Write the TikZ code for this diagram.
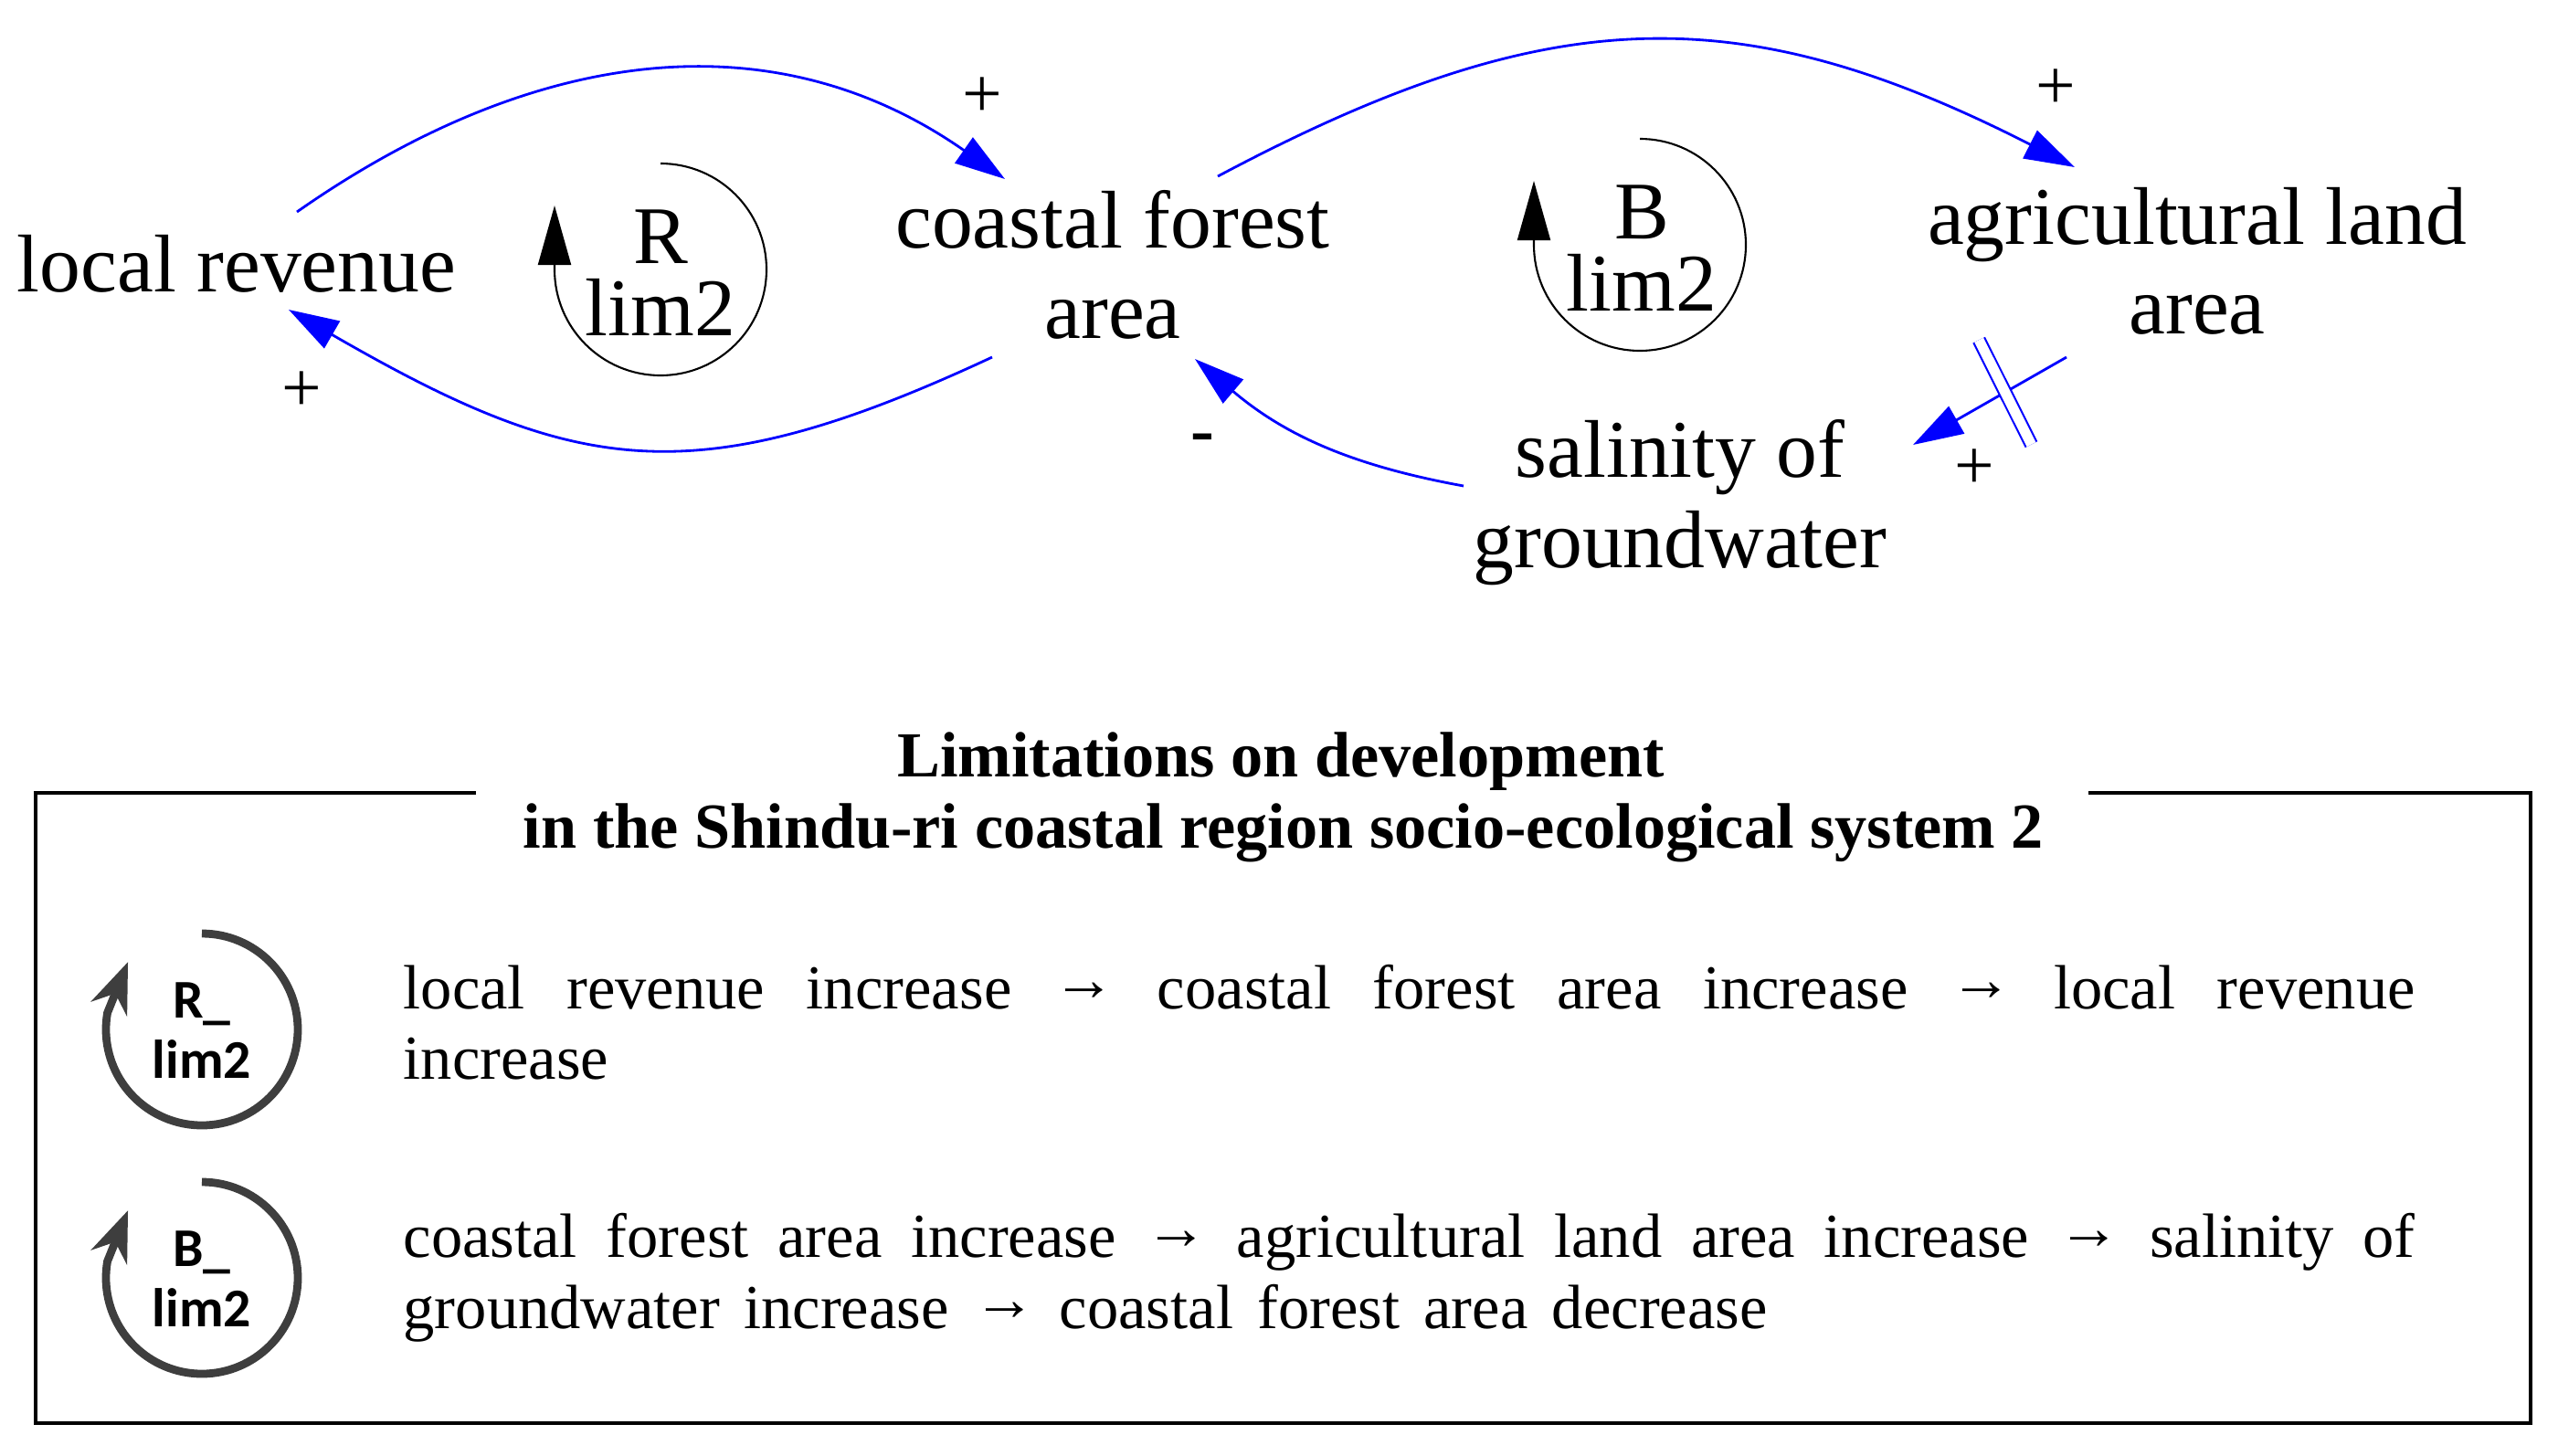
\documentclass[tikz,border=0pt]{standalone}
\usepackage{fontspec}
\setmainfont{Liberation Serif}
\newfontfamily\iconfont{Carlito}
\usetikzlibrary{arrows.meta,calc}
\definecolor{cldblue}{RGB}{0,0,255}
\definecolor{icongray}{RGB}{62,62,62}
\newcommand\legarrow{\raisebox{0.12em}{→}}
\begin{document}
\begin{tikzpicture}[
  var/.style={align=center, inner sep=0pt, font=\fontsize{25.5}{28}\selectfont},
  looplbl/.style={align=center, inner sep=0pt, font=\fontsize{25.5}{22.5}\selectfont},
  polarity/.style={inner sep=0pt, font=\fontsize{22}{24}\selectfont},
  link/.style={draw=cldblue, line width=0.8pt, -{Triangle[length=0.55cm,width=0.34cm]}},
  loopring/.style={draw=black, line width=0.6pt, -{Triangle[length=0.65cm,width=0.36cm]}},
  iconring/.style={draw=icongray, line width=2.5pt, -{Stealth[length=0.55cm,width=0.42cm]}},
  iconlbl/.style={align=center, inner sep=0pt, text=black, font=\iconfont\bfseries\fontsize{17}{19}\selectfont},
  delaymark/.style={draw=cldblue, line width=0.6pt, double=white, double distance=0.11cm},
  frame/.style={draw=black, line width=1.1pt},
  legtitle/.style={inner sep=0pt, font=\bfseries\fontsize{20}{22}\selectfont},
  legtxt/.style={inner sep=0pt, font=\fontsize{19.5}{22}\selectfont}
]
\useasboundingbox (0,0) rectangle (28,-15.93);

% variables
\node[var] (lr) at (2.59,-2.89) {local revenue};
\node[var] (cf) at (12.18,-2.90) {coastal forest\\area};
\node[var] (ag) at (24.05,-2.86) {agricultural land\\area};
\node[var] (sal) at (18.39,-5.50) {salinity of\\groundwater};

% connector end points
\coordinate (a1s) at ($(lr)+(0.66,0.57)$);
\coordinate (a1e) at ($(cf)+(-1.18,0.94)$);
\coordinate (a2s) at ($(cf)+(-1.32,-1.01)$);
\coordinate (a2e) at ($(lr)+(0.57,-0.50)$);
\coordinate (a3s) at ($(cf)+(1.15,0.97)$);
\coordinate (a3e) at ($(ag)+(-1.34,1.03)$);
\coordinate (a4s) at ($(ag)+(-1.43,-1.05)$);
\coordinate (a4e) at ($(sal)+(2.55,0.63)$);
\coordinate (a5s) at ($(sal)+(-2.37,0.18)$);
\coordinate (a5e) at ($(cf)+(0.90,-1.03)$);

% causal links
\draw[link] (a1s) to[out=35,in=145,looseness=1.03] (a1e);
\draw[link] (a2s) to[out=-155,in=-30,looseness=1.2] (a2e);
\draw[link] (a3s) to[out=28,in=153,looseness=1.12] (a3e);
\draw[link] (a4s) -- (a4e) coordinate[pos=0.4] (dm);
\draw[link] (a5s) to[bend left=15] (a5e);
\draw[delaymark] ($(dm)+(116.6:0.64)$) -- ($(dm)+(-63.4:0.64)$);

% polarities
\node[polarity] (p1) at (10.75,-1.07) {+};
\node[polarity] (p2) at (3.30,-4.29) {+};
\node[polarity] (p3) at (22.50,-0.98) {+};
\node[polarity] (p4) at (21.61,-5.14) {+};
\node[polarity, font=\bfseries\fontsize{22}{24}\selectfont] (p5) at (13.16,-4.86) {-};

% loop markers
\coordinate (rc) at (7.23,-2.95);
\coordinate (bc) at (17.95,-2.68);
\draw[loopring] (rc) ++(90:1.16) arc[start angle=90,end angle=-180,radius=1.16] -- ++(0,0.7);
\draw[loopring] (bc) ++(90:1.16) arc[start angle=90,end angle=-180,radius=1.16] -- ++(0,0.7);
\node[looplbl] (rl) at (7.23,-2.99) {R\\lim2};
\node[looplbl] (bl) at (17.97,-2.72) {B\\lim2};

% legend frame and title
\draw[frame] (5.21,-8.68) -- (0.39,-8.68) -- (0.39,-15.58) -- (27.70,-15.58) -- (27.70,-8.68) -- (22.86,-8.68);
\node[legtitle, anchor=base] (t1) at (14.02,-8.50) {Limitations on development};
\node[legtitle, anchor=base] (t2) at (14.05,-9.28) {in the Shindu-ri coastal region socio-ecological system 2};

% legend icons
\coordinate (ic1) at (2.21,-11.27);
\coordinate (ic2) at (2.21,-13.99);
\draw[iconring] (ic1) ++(90:1.05) arc[start angle=90,end angle=-190,radius=1.05] -- ++(68:0.6);
\draw[iconring] (ic2) ++(90:1.05) arc[start angle=90,end angle=-190,radius=1.05] -- ++(68:0.6);
\node[iconlbl] (il1) at (2.21,-11.28) {R\_\\lim2};
\node[iconlbl] (il2) at (2.21,-14.00) {B\_\\lim2};

% legend text
\node[legtxt, anchor=base west] (r1a) at (4.41,-11.04) {\makebox[22.02cm][s]{local revenue increase \legarrow{} coastal forest area increase \legarrow{} local revenue}};
\node[legtxt, anchor=base west] (r1b) at (4.41,-11.81) {increase};
\node[legtxt, anchor=base west] (r2a) at (4.41,-13.76) {\makebox[22.02cm][s]{coastal forest area increase \legarrow{} agricultural land area increase \legarrow{} salinity of}};
\node[legtxt, anchor=base west] (r2b) at (4.41,-14.54) {\makebox[14.93cm][s]{groundwater increase \legarrow{} coastal forest area decrease}};
\end{tikzpicture}
\end{document}
